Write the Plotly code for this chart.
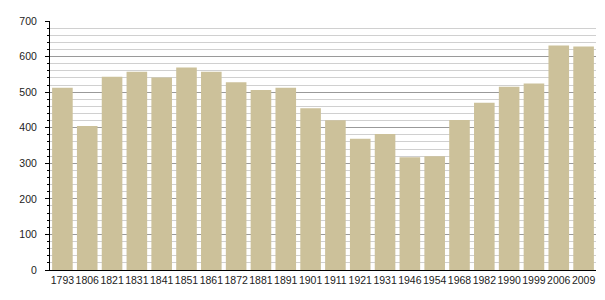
import plotly.graph_objects as go

years = ["1793", "1806", "1821", "1831", "1841", "1851", "1861", "1872", "1881", "1891", "1901",
         "1911", "1921", "1931", "1946", "1954", "1968", "1982", "1990", "1999", "2006", "2009"]
population = [512, 405, 543, 557, 541, 569, 557, 528, 506, 512, 455,
              421, 369, 382, 317, 320, 422, 470, 515, 524, 631, 628]
y_ticks = [0, 100, 200, 300, 400, 500, 600, 700]

fig = go.Figure(go.Bar(
    x=years, y=population,
    marker=dict(color="rgb(204,193,154)", line=dict(width=0)),
))

font = dict(family="Liberation Sans, Arial, sans-serif", size=10.5, color="#222")
fig.update_layout(
    width=605, height=300,
    margin=dict(l=50, r=9, t=21, b=30),
    paper_bgcolor="white", plot_bgcolor="white",
    bargap=0.17,
    showlegend=False,
    font=font,
)
fig.update_xaxes(
    type="category", showline=True, linecolor="black", linewidth=1,
    ticks="", showgrid=False, tickfont=font, tickangle=0,
)
fig.update_yaxes(
    range=[0, 700], tickvals=y_ticks, showline=True, linecolor="black", linewidth=1,
    ticks="outside", ticklen=4, tickcolor="black", tickwidth=1,
    showgrid=True, gridcolor="#9a9a9a", gridwidth=1, zeroline=False,
    tickfont=font, ticklabelstandoff=6,
    minor=dict(dtick=20, showgrid=True, gridcolor="#d0d0d0", gridwidth=1,
               ticks="outside", ticklen=2, tickcolor="black"),
)

fig.write_html("out.html")
